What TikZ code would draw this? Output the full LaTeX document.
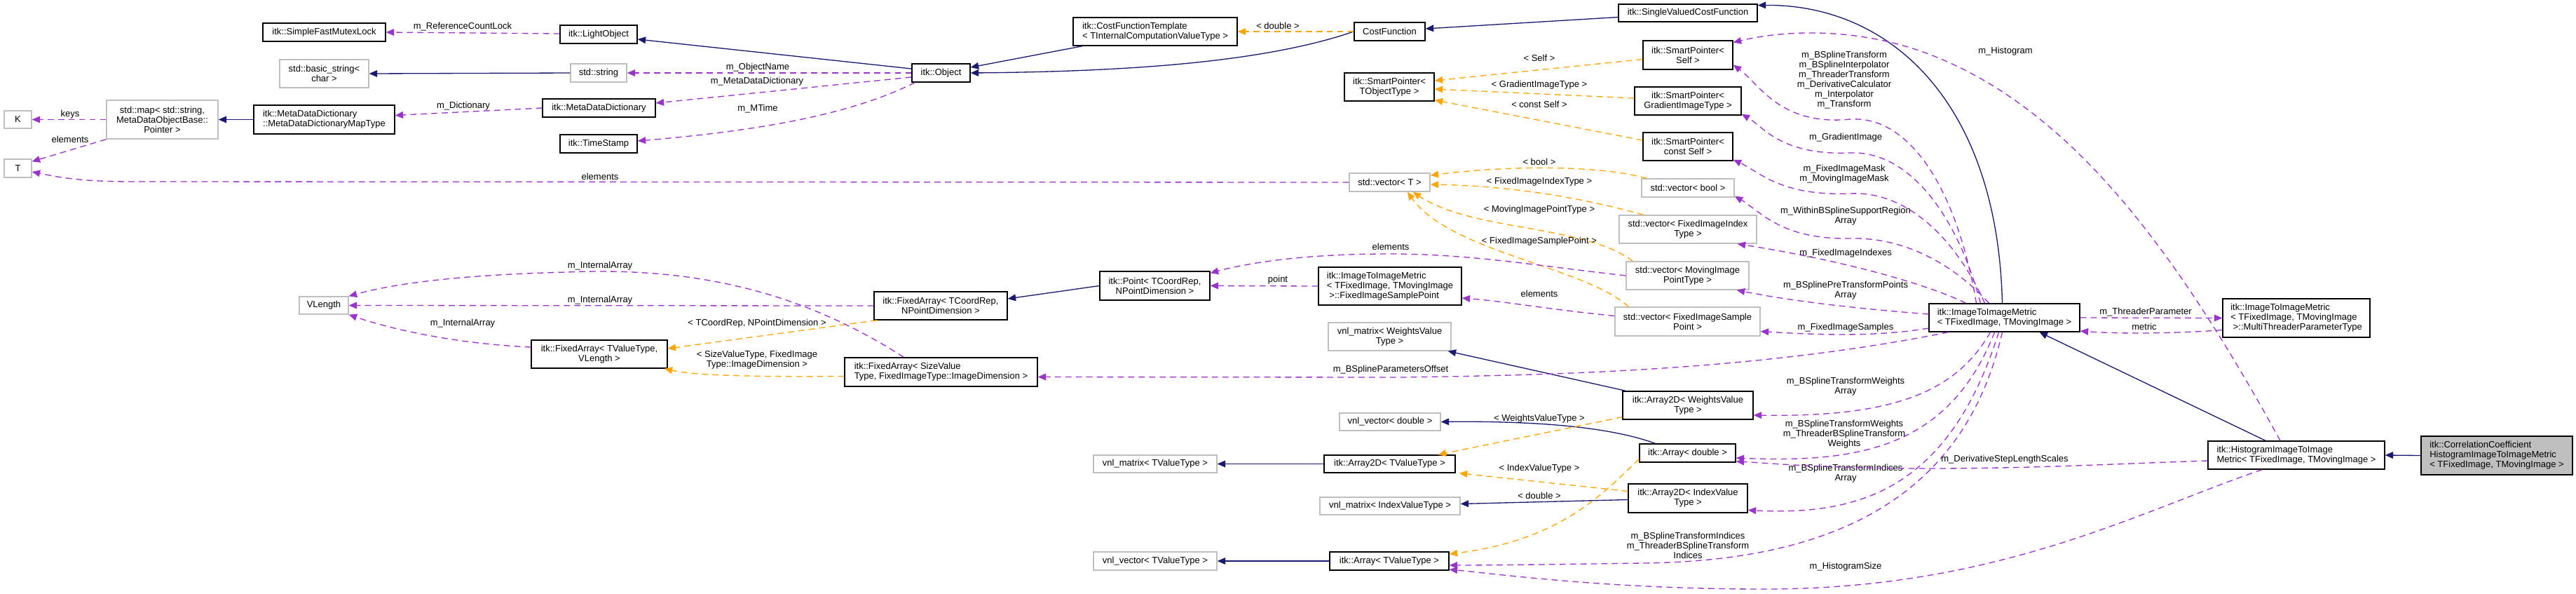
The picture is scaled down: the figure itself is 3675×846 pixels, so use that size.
\documentclass[tikz,border=0pt]{standalone}
\usepackage{fontspec}
\setmainfont{Liberation Sans}
\usetikzlibrary{arrows.meta,calc}
\definecolor{inhc}{HTML}{191970}
\definecolor{usec}{HTML}{9A32CD}
\definecolor{tplc}{HTML}{FFA500}
\definecolor{grayb}{HTML}{BFBFBF}
\begin{document}
\begin{tikzpicture}[x=0.02cm,y=-0.02cm,
  every node/.style={font=\fontsize{7.4pt}{7.9pt}\selectfont},
  box/.style 2 args={draw=black,line width=0.8pt,fill=white,inner sep=1pt,align=center,minimum width=#1*0.02cm,minimum height=#2*0.02cm},
  gbox/.style 2 args={box={#1}{#2},draw=grayb},
  lbl/.style={inner sep=0pt,align=center},
  >={Triangle[length=6.5pt,width=5.5pt]},
  inh/.style={->,draw=inhc,line width=0.75pt},
  use/.style={->,draw=usec,line width=0.75pt,dash pattern=on 5pt off 3.5pt},
  tpl/.style={->,draw=tplc,line width=0.75pt,dash pattern=on 5pt off 3.5pt}]
\useasboundingbox (0,0) rectangle (3675,846);
% nodes
\node[box={175}{26}] (sfml) at (462.5,46) {itk::SimpleFastMutexLock};
\node[box={110}{26}] (light) at (854,49) {itk::LightObject};
\node[gbox={127}{40}] (bstr) at (462.5,105) {std::basic\_string\textless\\char \textgreater};
\node[gbox={80}{26}] (sstr) at (854,104) {std::string};
\node[gbox={159}{55}] (map) at (231.5,170.5) {std::map\textless{} std::string,\\MetaDataObjectBase::\\Pointer \textgreater};
\node[box={201}{41},align=left] (mdmap) at (462.5,170.5) {itk::MetaDataDictionary\\::MetaDataDictionaryMapType};
\node[box={161}{26}] (mdd) at (854.5,154) {itk::MetaDataDictionary};
\node[box={110}{26}] (ts) at (854,205) {itk::TimeStamp};
\node[gbox={39}{25}] (K) at (25.5,170.5) {K};
\node[gbox={39}{26}] (T) at (25.5,240) {T};
\node[gbox={70}{25}] (vlen) at (462,435.5) {VLength};
\node[box={194}{40}] (faTV) at (855,505) {itk::FixedArray\textless{} TValueType,\\VLength \textgreater};
\node[box={83}{26}] (obj) at (1342.5,104) {itk::Object};
\node[box={234}{40},align=left] (cft) at (1648,45) {itk::CostFunctionTemplate\\\textless{} TInternalComputationValueType \textgreater};
\node[box={101}{26}] (cf) at (1982.5,45) {CostFunction};
\node[box={128}{40}] (spT) at (1982,124) {itk::SmartPointer\textless\\TObjectType \textgreater};
\node[gbox={115}{26}] (vecT) at (1982.5,260) {std::vector\textless{} T \textgreater};
\node[box={157}{41}] (point) at (1647.5,407.5) {itk::Point\textless{} TCoordRep,\\NPointDimension \textgreater};
\node[box={204}{54},align=left] (fisp) at (1983,408) {itk::ImageToImageMetric\\\textless{} TFixedImage, TMovingImage\\\ \textgreater::FixedImageSamplePoint};
\node[box={190}{40}] (faTC) at (1342,436) {itk::FixedArray\textless{} TCoordRep,\\NPointDimension \textgreater};
\node[box={275}{41},align=left] (faSV) at (1342.5,530.5) {itk::FixedArray\textless{} SizeValue\\Type, FixedImageType::ImageDimension \textgreater};
\node[gbox={175}{40}] (vnlmW) at (1982.5,480) {vnl\_matrix\textless{} WeightsValue\\Type \textgreater};
\node[gbox={144}{25}] (vnlvd) at (1983,601.5) {vnl\_vector\textless{} double \textgreater};
\node[gbox={176}{25}] (vnlmT) at (1648,661.5) {vnl\_matrix\textless{} TValueType \textgreater};
\node[box={187}{25}] (a2dT) at (1982.5,661.5) {itk::Array2D\textless{} TValueType \textgreater};
\node[gbox={200}{25}] (vnlmI) at (1983,721.5) {vnl\_matrix\textless{} IndexValueType \textgreater};
\node[gbox={176}{26}] (vnlvT) at (1648,800) {vnl\_vector\textless{} TValueType \textgreater};
\node[box={170}{26}] (arrT) at (1982,800) {itk::Array\textless{} TValueType \textgreater};
\node[box={198}{25}] (svcf) at (2408,18.5) {itk::SingleValuedCostFunction};
\node[box={128}{41}] (spS) at (2408,78.5) {itk::SmartPointer\textless\\Self \textgreater};
\node[box={152}{40}] (spG) at (2408,144) {itk::SmartPointer\textless\\GradientImageType \textgreater};
\node[box={128}{40}] (spC) at (2408,209) {itk::SmartPointer\textless\\const Self \textgreater};
\node[gbox={132}{26}] (vb) at (2408,268) {std::vector\textless{} bool \textgreater};
\node[gbox={196}{40}] (vfi) at (2408,327) {std::vector\textless{} FixedImageIndex\\Type \textgreater};
\node[gbox={175}{40}] (vmp) at (2407.5,393) {std::vector\textless{} MovingImage\\PointType \textgreater};
\node[gbox={207}{41}] (vfs) at (2407.5,458.5) {std::vector\textless{} FixedImageSample\\Point \textgreater};
\node[box={186}{40}] (a2dW) at (2408,578) {itk::Array2D\textless{} WeightsValue\\Type \textgreater};
\node[box={137}{26}] (ad) at (2407.5,646) {itk::Array\textless{} double \textgreater};
\node[box={170}{41}] (a2dI) at (2408,710.5) {itk::Array2D\textless{} IndexValue\\Type \textgreater};
\node[box={215}{40},align=left] (itim) at (2859.5,453) {itk::ImageToImageMetric\\\textless{} TFixedImage, TMovingImage \textgreater};
\node[box={210}{55},align=left] (mtp) at (3276,453.5) {itk::ImageToImageMetric\\\textless{} TFixedImage, TMovingImage\\\ \textgreater::MultiThreaderParameterType};
\node[box={252}{40},align=left] (hist) at (3276,649) {itk::HistogramImageToImage\\Metric\textless{} TFixedImage, TMovingImage \textgreater};
\node[box={216}{55},align=left,fill=grayb] (cc) at (3562,649.5) {itk::CorrelationCoefficient\\HistogramImageToImageMetric\\\textless{} TFixedImage, TMovingImage \textgreater};
% inheritance
\draw[inh] ($(obj.west)+(0,-6)$) -- ($(light.east)+(0,7)$);
\draw[inh] ($(cft.south west)+(14,0)$) -- ($(obj.east)+(0,-8)$);
\draw[inh] (cf.west) .. controls (1800,90) and (1600,102) .. ($(obj.east)+(0,0)$);
\draw[inh] (sstr.west) -- (bstr.east);
\draw[inh] (mdmap.west) -- (map.east);
\draw[inh] ($(svcf.west)+(0,6)$) -- ($(cf.east)+(0,-4)$);
\draw[inh] ($(itim.north)+(-3,0)$) .. controls (2850,150) and (2700,6) .. ($(svcf.east)+(0,-11)$);
\draw[inh] (point.west) -- ($(faTC.east)+(0,-10)$);
\draw[inh] ($(a2dW.north west)+(5,0)$) -- ($(vnlmW.south east)+(-5,0)$);
\draw[inh] ($(ad.north west)+(23,0)$) .. controls (2300,610) and (2200,600) .. (vnlvd.east);
\draw[inh] (a2dT.west) -- (vnlmT.east);
\draw[inh] ($(a2dI.west)+(0,2)$) -- ($(vnlmI.east)+(0,-3)$);
\draw[inh] (arrT.west) -- (vnlvT.east);
\draw[inh] ($(hist.north)+(-44,0)$) -- ($(itim.south)+(50,0)$);
\draw[inh] (cc.west) -- (hist.east);
% template
\draw[tpl] (cf.west) -- (cft.east);
\node[lbl] (l1) at (1823,37) {\textless{} double \textgreater};
\draw[tpl] ($(spS.west)+(0,6)$) -- ($(spT.east)+(0,-9)$);
\draw[tpl] ($(spG.west)+(0,-4)$) -- ($(spT.east)+(0,3)$);
\draw[tpl] ($(spC.west)+(0,-9)$) -- ($(spT.south east)+(0,-2)$);
\node[lbl] (l2) at (2196,83) {\textless{} Self \textgreater};
\node[lbl] (l3) at (2196,121) {\textless{} GradientImageType \textgreater};
\node[lbl] (l4) at (2196,149) {\textless{} const Self \textgreater};
\draw[tpl] ($(vb.north west)+(8,0)$) .. controls (2280,235) and (2150,236) .. ($(vecT.east)+(0,-10)$);
\draw[tpl] ($(vfi.north west)+(35,0)$) .. controls (2250,280) and (2150,265) .. ($(vecT.east)+(0,3)$);
\draw[tpl] ($(vmp.north west)+(10,0)$) .. controls (2260,320) and (2100,330) .. ($(vecT.south east)+(-25,0)$);
\draw[tpl] ($(vfs.north west)+(20,0)$) .. controls (2260,380) and (2070,360) .. ($(vecT.south east)+(-33,0)$);
\node[lbl] (l5) at (2196,231) {\textless{} bool \textgreater};
\node[lbl] (l6) at (2196,259) {\textless{} FixedImageIndexType \textgreater};
\node[lbl] (l7) at (2196,299) {\textless{} MovingImagePointType \textgreater};
\node[lbl] (l8) at (2196,344) {\textless{} FixedImageSamplePoint \textgreater};
\draw[tpl] ($(faTC.south west)+(5,0)$) -- ($(faTV.east)+(0,-8)$);
\node[lbl] (l9) at (1080,461) {\textless{} TCoordRep, NPointDimension \textgreater};
\draw[tpl] ($(faSV.west)+(0,6)$) .. controls (1100,537) and (1000,537) .. ($(faTV.south east)+(-5,0)$);
\node[lbl] (l10) at (1080,513) {\textless{} SizeValueType, FixedImage\\Type::ImageDimension \textgreater};
\draw[tpl] ($(a2dW.south west)+(0,-4)$) -- ($(a2dT.north east)+(-25,0)$);
\node[lbl] (l11) at (2196,597) {\textless{} WeightsValueType \textgreater};
\draw[tpl] ($(a2dI.west)+(0,-10)$) -- ($(a2dT.south east)+(5,0)$);
\node[lbl] (l12) at (2196,668) {\textless{} IndexValueType \textgreater};
\draw[tpl] ($(ad.south west)+(0,-5)$) .. controls (2290,700) and (2230,770) .. ($(arrT.east)+(0,-10)$);
\node[lbl] (l13) at (2196,707) {\textless{} double \textgreater};
% usage
\draw[use] ($(light.west)+(0,-1)$) -- (sfml.east);
\node[lbl] (u1) at (660,38) {m\_ReferenceCountLock};
\draw[use] (obj.west) -- (sstr.east);
\node[lbl] (u2) at (1081,96) {m\_ObjectName};
\draw[use] ($(obj.west)+(0,6)$) -- ($(mdd.east)+(0,-7)$);
\node[lbl] (u3) at (1080,116) {m\_MetaDataDictionary};
\draw[use] ($(obj.south west)+(5,0)$) .. controls (1220,160) and (1100,185) .. ($(ts.east)+(0,-4)$);
\node[lbl] (u4) at (1081,155) {m\_MTime};
\draw[use] (mdd.west) -- ($(mdmap.east)+(0,-6)$);
\node[lbl] (u5) at (661,151) {m\_Dictionary};
\draw[use] (map.west) -- (K.east);
\node[lbl] (u6) at (100,163) {keys};
\draw[use] (map.south west) -- ($(T.north east)+(0,4)$);
\node[lbl] (u7) at (100,199) {elements};
\draw[use] (vecT.west) -- (191,259) .. controls (120,259) and (90,254) .. ($(T.east)+(0,5)$);
\node[lbl] (u8) at (856,252) {elements};
\draw[use] (faTC.west) -- (vlen.east);
\node[lbl] (u9) at (856,428) {m\_InternalArray};
\draw[use] ($(faTV.west)+(0,-10)$) .. controls (650,490) and (560,470) .. (vlen.south east);
\node[lbl] (u10) at (660,461) {m\_InternalArray};
\draw[use] ($(faSV.north west)+(85,0)$) .. controls (1150,420) and (1000,380) .. (810,388) .. controls (650,392) and (560,405) .. (vlen.north east);
\node[lbl] (u11) at (856,379) {m\_InternalArray};
\draw[use] (fisp.west) -- (point.east);
\node[lbl] (u12) at (1823,399) {point};
\draw[use] ($(vmp.west)+(0,0)$) .. controls (2200,380) and (2100,362) .. (1982,362) .. controls (1860,362) and (1780,375) .. ($(point.north east)+(0,3)$);
\node[lbl] (u13) at (1984,352) {elements};
\draw[use] ($(vfs.west)+(0,-8)$) .. controls (2200,440) and (2150,430) .. ($(fisp.east)+(0,17)$);
\node[lbl] (u14) at (2196,419) {elements};
% ITIM usages
\draw[use] ($(itim.north)+(-40,0)$) .. controls (2790,260) and (2720,165) .. (2640,170) .. controls (2540,180) and (2510,120) .. ($(spS.east)+(0,14)$);
\node[lbl] (u15) at (2631,114) {m\_BSplineTransform\\m\_BSplineInterpolator\\m\_ThreaderTransform\\m\_DerivativeCalculator\\m\_Interpolator\\m\_Transform};
\draw[use] ($(itim.north)+(-34,0)$) .. controls (2790,300) and (2720,215) .. (2640,218) .. controls (2540,222) and (2515,180) .. ($(spG.south east)+(0,-2)$);
\node[lbl] (u16) at (2633,196) {m\_GradientImage};
\draw[use] ($(itim.north)+(-28,0)$) .. controls (2790,340) and (2720,272) .. (2640,276) .. controls (2540,280) and (2510,245) .. ($(spC.south east)+(0,-2)$);
\node[lbl] (u17) at (2631,248.5) {m\_FixedImageMask\\m\_MovingImageMask};
\draw[use] ($(itim.north)+(-22,0)$) .. controls (2790,380) and (2720,338) .. (2640,340) .. controls (2540,342) and (2510,300) .. ($(vb.south east)+(0,-2)$);
\node[lbl] (u18) at (2633,308.5) {m\_WithinBSplineSupportRegion\\Array};
\draw[use] ($(itim.north)+(-55,0)$) .. controls (2760,410) and (2650,375) .. ($(vfi.south east)+(-28,0)$);
\node[lbl] (u19) at (2633,361) {m\_FixedImageIndexes};
\draw[use] ($(itim.west)+(0,-5)$) .. controls (2650,440) and (2560,430) .. ($(vmp.south east)+(-18,0)$);
\node[lbl] (u20) at (2633,414) {m\_BSplinePreTransformPoints\\Array};
\draw[use] ($(itim.west)+(0,15)$) .. controls (2680,480) and (2600,478) .. ($(vfs.east)+(0,14)$);
\node[lbl] (u21) at (2633,467) {m\_FixedImageSamples};
\draw[use] ($(itim.south west)+(28,0)$) .. controls (2500,530) and (2200,535) .. (2000,538) -- ($(faSV.east)+(0,7)$);
\node[lbl] (u22) at (1984,527) {m\_BSplineParametersOffset};
\draw[use] ($(itim.south)+(-20,0)$) .. controls (2790,560) and (2700,595) .. ($(a2dW.east)+(0,14)$);
\node[lbl] (u23) at (2633,551.5) {m\_BSplineTransformWeights\\Array};
\draw[use] ($(itim.south)+(-14,0)$) .. controls (2780,640) and (2650,660) .. ($(ad.east)+(0,7)$);
\node[lbl] (u24) at (2631,619) {m\_BSplineTransformWeights\\m\_ThreaderBSplineTransform\\Weights};
\draw[use] ($(itim.south)+(-8,0)$) .. controls (2780,700) and (2650,735) .. ($(a2dI.east)+(0,17)$);
\node[lbl] (u25) at (2633,675.5) {m\_BSplineTransformIndices\\Array};
\draw[use] ($(itim.south)+(-3,0)$) .. controls (2800,720) and (2600,800) .. (2344,803) .. controls (2200,805) and (2120,806) .. ($(arrT.east)+(0,6)$);
\node[lbl] (u26) at (2408,778) {m\_BSplineTransformIndices\\m\_ThreaderBSplineTransform\\Indices};
\draw[use] (itim.east) -- (mtp.west);
\node[lbl] (u27) at (3061,445) {m\_ThreaderParameter};
\draw[use] ($(mtp.west)+(0,17)$) .. controls (3100,476) and (3020,476) .. ($(itim.east)+(0,19)$);
\node[lbl] (u28) at (3059,466) {metric};
% Histogram usages
\draw[use] ($(hist.north)+(-23,0)$) .. controls (3100,350) and (2950,150) .. (2746,75) .. controls (2650,40) and (2550,42) .. ($(spS.east)+(0,-18)$);
\node[lbl] (u29) at (2861,73) {m\_Histogram};
\draw[use] ($(hist.west)+(0,8)$) .. controls (3000,662) and (2900,668) .. (2750,668) .. controls (2600,668) and (2520,660) .. ($(ad.east)+(0,12)$);
\node[lbl] (u30) at (2860,655) {m\_DerivativeStepLengthScales};
\draw[use] ($(hist.south)+(-49,0)$) .. controls (3050,730) and (2850,840) .. (2517,840) .. controls (2300,840) and (2150,820) .. ($(arrT.east)+(0,12)$);
\node[lbl] (u31) at (2633,808) {m\_HistogramSize};
\end{tikzpicture}
\end{document}
